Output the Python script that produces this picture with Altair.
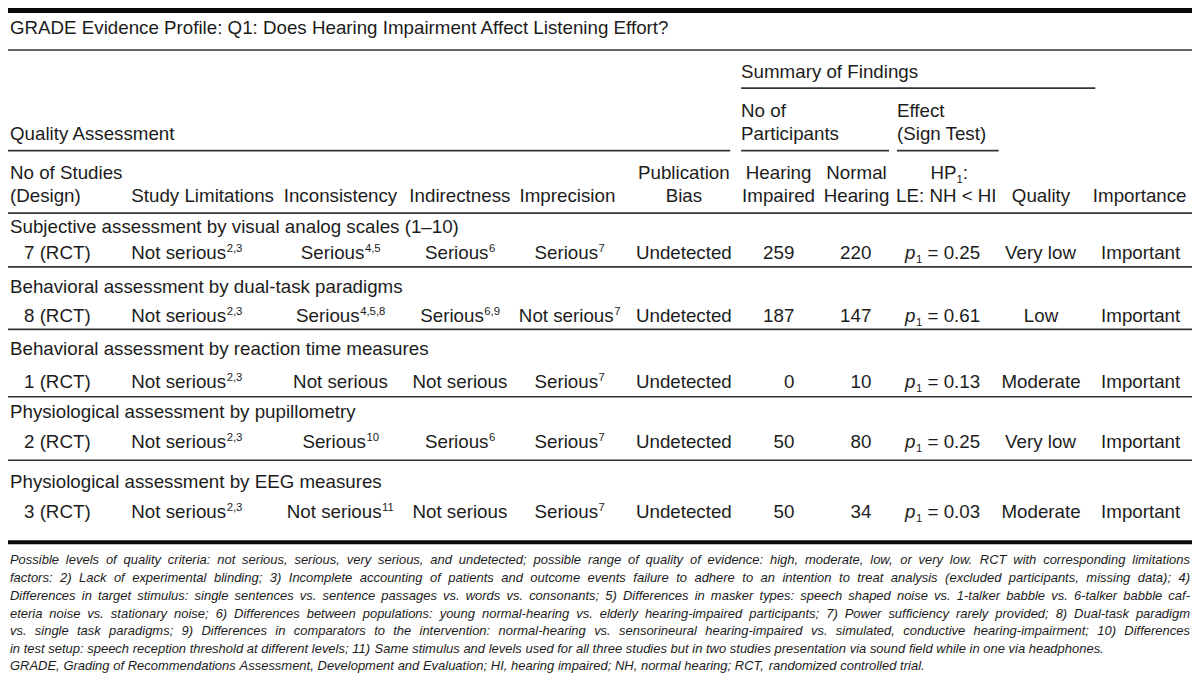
import altair as alt
import pandas as pd

# ------------------------------------------------------------------ data
title = "GRADE Evidence Profile: Q1: Does Hearing Impairment Affect Listening Effort?"
groups = [
    "Subjective assessment by visual analog scales (1–10)",
    "Behavioral assessment by dual-task paradigms",
    "Behavioral assessment by reaction time measures",
    "Physiological assessment by pupillometry",
    "Physiological assessment by EEG measures",
]
studies = ["7 (RCT)", "8 (RCT)", "1 (RCT)", "2 (RCT)", "3 (RCT)"]
limitations = ["Not serious", "Not serious", "Not serious", "Not serious", "Not serious"]
limitations_sup = ["2,3", "2,3", "2,3", "2,3", "2,3"]
inconsistency = ["Serious", "Serious", "Not serious", "Serious", "Not serious"]
inconsistency_sup = ["4,5", "4,5,8", "", "10", "11"]
indirectness = ["Serious", "Serious", "Not serious", "Serious", "Not serious"]
indirectness_sup = ["6", "6,9", "", "6", ""]
imprecision = ["Serious", "Not serious", "Serious", "Serious", "Serious"]
imprecision_sup = ["7", "7", "7", "7", "7"]
publication_bias = ["Undetected", "Undetected", "Undetected", "Undetected", "Undetected"]
hearing_impaired = [259, 187, 0, 50, 50]
normal_hearing = [220, 147, 10, 80, 34]
p_values = ["0.25", "0.61", "0.13", "0.25", "0.03"]
quality = ["Very low", "Low", "Moderate", "Very low", "Moderate"]
importance = ["Important", "Important", "Important", "Important", "Important"]

footnote_lines = [
    "Possible levels of quality criteria: not serious, serious, very serious, and undetected; possible range of quality of evidence: high, moderate, low, or very low. RCT with corresponding limitations",
    "factors: 2) Lack of experimental blinding; 3) Incomplete accounting of patients and outcome events failure to adhere to an intention to treat analysis (excluded participants, missing data); 4)",
    "Differences in target stimulus: single sentences vs. sentence passages vs. words vs. consonants; 5) Differences in masker types: speech shaped noise vs. 1-talker babble vs. 6-talker babble caf-",
    "eteria noise vs. stationary noise; 6) Differences between populations: young normal-hearing vs. elderly hearing-impaired participants; 7) Power sufficiency rarely provided; 8) Dual-task paradigm",
    "vs. single task paradigms; 9) Differences in comparators to the intervention: normal-hearing vs. sensorineural hearing-impaired vs. simulated, conductive hearing-impairment; 10) Differences",
    "in test setup: speech reception threshold at different levels; 11) Same stimulus and levels used for all three studies but in two studies presentation via sound field while in one via headphones.",
    "GRADE, Grading of Recommendations Assessment, Development and Evaluation; HI, hearing impaired; NH, normal hearing; RCT, randomized controlled trial.",
]
footnote_justified = [True, True, True, True, True, False, False]

# ------------------------------------------------------------------ layout (reference pixel space 1200 x 690)
REF_W, REF_H = 1200, 690
PLOT_W, PLOT_H = 1184, 674
SX = PLOT_W / REF_W

FS = 19.0          # body font size
SFS = 11.5         # super/subscript size
SUP_RAISE = 6.8
SUB_DROP = 4.2
TEXT_COLOR = "#1c1c1c"

# Arial / Liberation Sans advance widths (1/1000 em)
ARIAL = dict(zip(" !\"#$%&'()*+,-./0123456789:;<=>?",
                 [278, 278, 355, 556, 556, 889, 667, 191, 333, 333, 389, 584, 278, 333, 278, 278]
                 + [556] * 10 + [278, 278, 584, 584, 584, 556]))
ARIAL.update(zip("ABCDEFGHIJKLMNOPQRSTUVWXYZ",
                 [667, 667, 722, 722, 667, 611, 778, 722, 278, 500, 667, 556, 833, 722, 778, 667,
                  778, 722, 667, 611, 722, 667, 944, 667, 667, 611]))
ARIAL.update(zip("abcdefghijklmnopqrstuvwxyz",
                 [556, 556, 500, 556, 556, 278, 556, 556, 222, 222, 500, 222, 833, 556, 556, 556,
                  556, 333, 500, 278, 556, 500, 722, 500, 500, 500]))
ARIAL["–"] = 556


def em(s):
    return sum(ARIAL.get(c, 556) for c in s) / 1000.0


items = []


def put(text, x, y, size=FS, align="left", italic=False):
    w = em(text) * size
    if align == "center":
        x -= w / 2
    elif align == "right":
        x -= w
    items.append(dict(x=x, y=y, text=text, size=size * SX, italic=italic))


def put_sup(main, sup, x, y, align="left"):
    w = em(main) * FS + em(sup) * SFS
    x0 = x - w / 2 if align == "center" else x
    put(main, x0, y)
    if sup:
        put(sup, x0 + em(main) * FS + 0.5, y - SUP_RAISE, SFS)


# column anchors
COL_STUDY = 50
COL_LIMIT = 125
COL_INCONS = 337
COL_INDIR = 458
COL_IMPREC = 569
COL_PUB = 685
COL_HI_R = 797
COL_NH_R = 875
COL_HI_HEAD = 781
COL_NH_HEAD = 860
COL_EFFECT = 951
COL_QUAL = 1047
COL_IMPORT = 1148
LEFT = 2
SUMMARY_L = 743
EFFECT_L = 901

# title
put(title, LEFT, 27)
# header block
put("Summary of Findings", SUMMARY_L, 72)
put("No of", SUMMARY_L, 112)
put("Participants", SUMMARY_L, 135)
put("Effect", EFFECT_L, 112)
put("(Sign Test)", EFFECT_L, 135)
put("Quality Assessment", LEFT, 135)
H1, H2 = 175, 199
put("No of Studies", LEFT, H1)
put("(Design)", LEFT, H2)
put("Study Limitations", COL_LIMIT, H2)
put("Inconsistency", COL_INCONS, H2, align="center")
put("Indirectness", COL_INDIR, H2, align="center")
put("Imprecision", COL_IMPREC - 2, H2, align="center")
put("Publication", COL_PUB, H1, align="center")
put("Bias", COL_PUB, H2, align="center")
put("Hearing", COL_HI_HEAD, H1, align="center")
put("Impaired", COL_HI_HEAD, H2, align="center")
put("Normal", COL_NH_HEAD, H1, align="center")
put("Hearing", COL_NH_HEAD, H2, align="center")
# HP1:
hp_w = em("HP") * FS + em("1") * SFS + em(":") * FS
hx = COL_EFFECT + 3 - hp_w / 2
put("HP", hx, H1)
put("1", hx + em("HP") * FS, H1 + SUB_DROP, SFS)
put(":", hx + em("HP") * FS + em("1") * SFS, H1)
put("LE: NH < HI", COL_EFFECT, H2, align="center")
put("Quality", COL_QUAL, H2, align="center")
put("Importance", COL_IMPORT - 1, H2, align="center")

# body rows
group_base = [230, 292, 355, 420, 491]
data_base = [257, 321, 389, 450, 522]
for i in range(5):
    put(groups[i], LEFT, group_base[i])
    y = data_base[i]
    put(studies[i], COL_STUDY, y, align="center")
    put_sup(limitations[i], limitations_sup[i], COL_LIMIT, y)
    put_sup(inconsistency[i], inconsistency_sup[i], COL_INCONS, y, align="center")
    put_sup(indirectness[i], indirectness_sup[i], COL_INDIR, y, align="center")
    put_sup(imprecision[i], imprecision_sup[i], COL_IMPREC, y, align="center")
    put(publication_bias[i], COL_PUB, y, align="center")
    put(str(hearing_impaired[i]), COL_HI_R, y, align="right")
    put(str(normal_hearing[i]), COL_NH_R, y, align="right")
    rest = "= " + p_values[i]
    pw = em("p") * FS + em("1") * SFS + em(" ") * FS + em(rest) * FS
    px = COL_EFFECT - 4 - pw / 2
    put("p", px, y, italic=True)
    put("1", px + em("p") * FS + 0.5, y + SUB_DROP, SFS)
    put(rest, px + em("p") * FS + em("1") * SFS + em(" ") * FS + 0.5, y)
    put(quality[i], COL_QUAL, y, align="center")
    put(importance[i], COL_IMPORT, y, align="center")

# footnotes (justified like the journal layout)
foot_base = [569, 588, 606, 624, 642, 660, 678]
FOOT_FS = 1.04 * 1066 / em(footnote_lines[5])
RIGHT = 1198
for line, just, yb in zip(footnote_lines, footnote_justified, foot_base):
    words = line.split(" ")
    widths = [em(w) * FOOT_FS for w in words]
    if just and len(words) > 1:
        gap = (RIGHT - LEFT - sum(widths)) / (len(words) - 1)
    else:
        gap = em(" ") * FOOT_FS
    x = LEFT
    for w, ww in zip(words, widths):
        put(w, x, yb, FOOT_FS, italic=True)
        x += ww + gap

text_df = pd.DataFrame(items)

# table rules
separators = [265, 329, 398, 463]
rule_rows = [
    dict(x=0, x2=REF_W, y=2.5, w=5, c="#0a0a0a"),
    dict(x=0, x2=REF_W, y=43, w=1.6, c="#333333"),
    dict(x=SUMMARY_L, x2=1102, y=82, w=1.6, c="#333333"),
    dict(x=0, x2=732, y=146, w=1.6, c="#333333"),
    dict(x=SUMMARY_L, x2=893, y=146, w=1.6, c="#333333"),
    dict(x=EFFECT_L, x2=1004, y=146, w=1.6, c="#333333"),
    dict(x=0, x2=REF_W, y=210, w=1.6, c="#333333"),
] + [dict(x=0, x2=REF_W, y=s, w=1.6, c="#333333") for s in separators] + [
    dict(x=0, x2=REF_W, y=547, w=4, c="#0a0a0a"),
]
rule_df = pd.DataFrame(rule_rows)

# ------------------------------------------------------------------ chart
xs = alt.Scale(domain=[0, REF_W], range=[0, PLOT_W], nice=False, zero=False)
ys = alt.Scale(domain=[0, REF_H], range=[0, PLOT_H], nice=False, zero=False)

rules = alt.Chart(rule_df).mark_rule().encode(
    x=alt.X("x:Q", scale=xs, axis=None),
    x2="x2:Q",
    y=alt.Y("y:Q", scale=ys, axis=None),
    strokeWidth=alt.StrokeWidth("w:Q", scale=None, legend=None),
    color=alt.Color("c:N", scale=None, legend=None),
)

base_text = alt.Chart(text_df).encode(
    x=alt.X("x:Q", scale=xs, axis=None),
    y=alt.Y("y:Q", scale=ys, axis=None),
    text="text:N",
    size=alt.Size("size:Q", scale=None, legend=None),
)

regular = base_text.transform_filter("!datum.italic").mark_text(
    align="left", baseline="alphabetic", font="Liberation Sans", color=TEXT_COLOR
)
italic = base_text.transform_filter("datum.italic").mark_text(
    align="left", baseline="alphabetic", font="Liberation Sans", fontStyle="italic", color=TEXT_COLOR
)

chart = (
    alt.layer(rules, regular, italic)
    .properties(width=PLOT_W, height=PLOT_H, padding=0, autosize=alt.AutoSizeParams(type="none"),
                background="white")
    .configure_view(stroke=None)
)

chart.save("out.html", embed_options={"renderer": "svg", "actions": False})
